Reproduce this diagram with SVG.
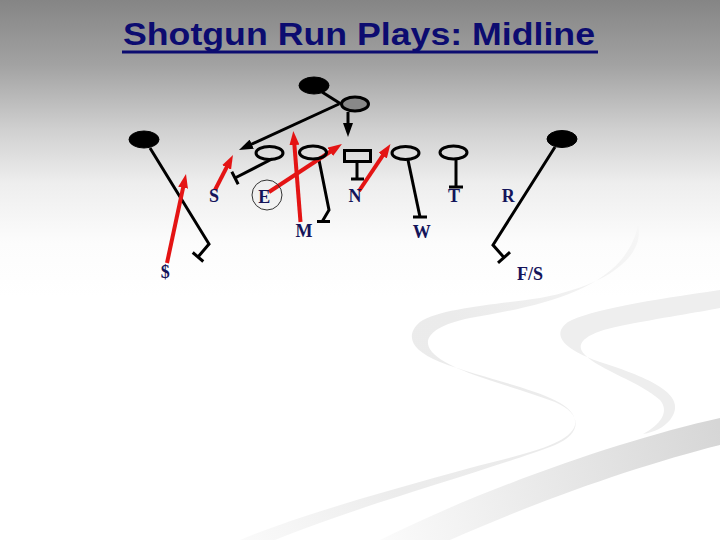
<svg xmlns="http://www.w3.org/2000/svg" width="720" height="540" viewBox="0 0 720 540">
<defs>
<linearGradient id="bg" x1="0" y1="0" x2="0" y2="540" gradientUnits="userSpaceOnUse">
<stop offset="0" stop-color="#858585"/>
<stop offset="0.12" stop-color="#a2a2a2"/>
<stop offset="0.24" stop-color="#d0d0d0"/>
<stop offset="0.34" stop-color="#eeeeee"/>
<stop offset="0.45" stop-color="#fcfcfc"/>
<stop offset="0.55" stop-color="#ffffff"/>
</linearGradient>
<linearGradient id="sw1" x1="640" y1="225" x2="240" y2="540" gradientUnits="userSpaceOnUse">
<stop offset="0" stop-color="#f6f6f6"/>
<stop offset="0.4" stop-color="#ebebeb"/>
<stop offset="0.7" stop-color="#ececec"/>
<stop offset="1" stop-color="#fafafa"/>
</linearGradient>
<linearGradient id="sw3" x1="720" y1="430" x2="380" y2="540" gradientUnits="userSpaceOnUse">
<stop offset="0" stop-color="#d6d6d6"/>
<stop offset="1" stop-color="#fbfbfb"/>
</linearGradient>
<marker id="ar" viewBox="0 0 14 10" refX="4" refY="5" markerWidth="14" markerHeight="10" markerUnits="userSpaceOnUse" orient="auto">
<path d="M0,0 L14,5 L0,10 Z" fill="#e41414"/>
</marker>
<marker id="ab" viewBox="0 0 14 10" refX="4" refY="5" markerWidth="14" markerHeight="10" markerUnits="userSpaceOnUse" orient="auto">
<path d="M0,0 L14,5 L0,10 Z" fill="#000"/>
</marker>
</defs>
<style>
.blk{fill:none;stroke:#000;stroke-width:3;stroke-linejoin:miter}
.red{fill:none;stroke:#e41414;stroke-width:4;marker-end:url(#ar)}
.ov{fill:none;stroke:#000;stroke-width:3}
.ovb{fill:#000;stroke:#000;stroke-width:1}
.lab{font-family:"Liberation Serif",serif;font-weight:bold;font-size:18px;fill:#14145a;text-anchor:middle}
.ttl{font-family:"Liberation Sans",Arial,sans-serif;font-weight:bold;font-size:31px;fill:#0c0c70}
</style>
<rect width="720" height="540" fill="url(#bg)"/>
<g id="background-swooshes">
<path d="M638,225 C645,255 610,285 540,298 C500,304 440,308 420,322 C405,335 410,350 440,362 C500,385 580,395 575,425 C570,445 520,455 470,468 C390,490 300,515 240,540 L275,540 C360,505 490,470 555,445 C580,435 585,415 555,402 C510,385 450,372 432,352 C420,338 435,325 470,318 C540,306 625,290 638,225 Z" fill="url(#sw1)"/>
<path d="M720,290 C650,300 590,310 568,322 C550,335 565,350 600,362 C650,378 690,395 670,420 C663,428 655,432 643,434 C660,425 670,412 660,400 C640,382 600,370 585,355 C572,342 590,332 620,326 C660,318 700,312 720,308 Z" fill="#eeeeee"/>
<path d="M720,418 C620,440 480,490 380,540 L450,540 C540,500 640,465 720,445 Z" fill="url(#sw3)"/>
</g>
<g id="title">
<text class="ttl" x="123" y="45" textLength="472" lengthAdjust="spacingAndGlyphs">Shotgun Run Plays: Midline</text>
<rect x="122" y="50.5" width="476" height="3" fill="#0c0c70"/>
</g>
<g id="connectors">
<polyline class="blk" points="150,148 209,244 198,257"/>
<line class="blk" x1="192.7" y1="252.5" x2="203.3" y2="261.5"/>
<line class="blk" x1="272" y1="159" x2="235" y2="178"/>
<line class="blk" x1="231.8" y1="171.8" x2="238.2" y2="184.2"/>
<polyline class="blk" points="319,160 329,210 322.5,221"/>
<line class="blk" x1="317" y1="221.5" x2="330" y2="221.5"/>
<line class="blk" x1="357" y1="162" x2="357" y2="179"/>
<line class="blk" x1="351" y1="179" x2="364" y2="179"/>
<line class="blk" x1="408" y1="160" x2="420" y2="217"/>
<line class="blk" x1="413" y1="217" x2="427" y2="217"/>
<line class="blk" x1="456" y1="159" x2="456" y2="187"/>
<line class="blk" x1="449" y1="187" x2="463" y2="187"/>
<polyline class="blk" points="555,147 493,245 504,257.5"/>
<line class="blk" x1="498" y1="262.8" x2="510" y2="252.2"/>
<line class="blk" x1="322" y1="92" x2="341" y2="104"/>
<line class="blk" x1="339" y1="104" x2="248.1" y2="145.8" style="marker-end:url(#ab)"/>
<line class="blk" x1="348" y1="112" x2="348" y2="127" style="marker-end:url(#ab)"/>
<line class="red" x1="167" y1="263" x2="183.9" y2="183.8"/>
<line class="red" x1="215" y1="190" x2="228.4" y2="163.9"/>
<line class="red" x1="300.5" y1="222" x2="294.1" y2="141"/>
<line class="red" x1="269" y1="192" x2="333.6" y2="149.5"/>
<line class="red" x1="359" y1="191" x2="384.9" y2="152.3"/>
</g>
<g id="qb"><ellipse class="ovb" cx="314" cy="85.5" rx="15" ry="8.5"/></g>
<g id="back"><ellipse cx="355" cy="104" rx="13.5" ry="7" fill="#888" stroke="#000" stroke-width="3"/></g>
<g id="left-receiver"><ellipse class="ovb" cx="144" cy="139.5" rx="15" ry="8.5"/></g>
<g id="right-receiver"><ellipse class="ovb" cx="562" cy="139" rx="15" ry="8.5"/></g>
<g id="lt"><ellipse class="ov" cx="269.5" cy="153" rx="13.5" ry="6.5"/></g>
<g id="lg"><ellipse class="ov" cx="313" cy="152.5" rx="13.5" ry="6.5"/></g>
<g id="center"><rect x="344.5" y="150.5" width="26" height="11" fill="none" stroke="#000" stroke-width="3"/></g>
<g id="rg"><ellipse class="ov" cx="405.5" cy="153" rx="13.5" ry="6.5"/></g>
<g id="rt"><ellipse class="ov" cx="453.5" cy="152.5" rx="13.5" ry="6.5"/></g>
<g id="def-dollar"><text class="lab" x="165.3" y="278">$</text></g>
<g id="def-S"><text class="lab" x="214" y="202">S</text></g>
<g id="def-E"><circle cx="267" cy="195" r="15" fill="none" stroke="#333" stroke-width="1"/><text class="lab" x="264.3" y="202.5">E</text></g>
<g id="def-M"><text class="lab" x="304" y="237">M</text></g>
<g id="def-N"><text class="lab" x="355" y="202">N</text></g>
<g id="def-W"><text class="lab" x="421.7" y="237.5">W</text></g>
<g id="def-T"><text class="lab" x="454" y="202">T</text></g>
<g id="def-R"><text class="lab" x="508.3" y="202">R</text></g>
<g id="def-FS"><text class="lab" x="530" y="279.5">F/S</text></g>
</svg>
